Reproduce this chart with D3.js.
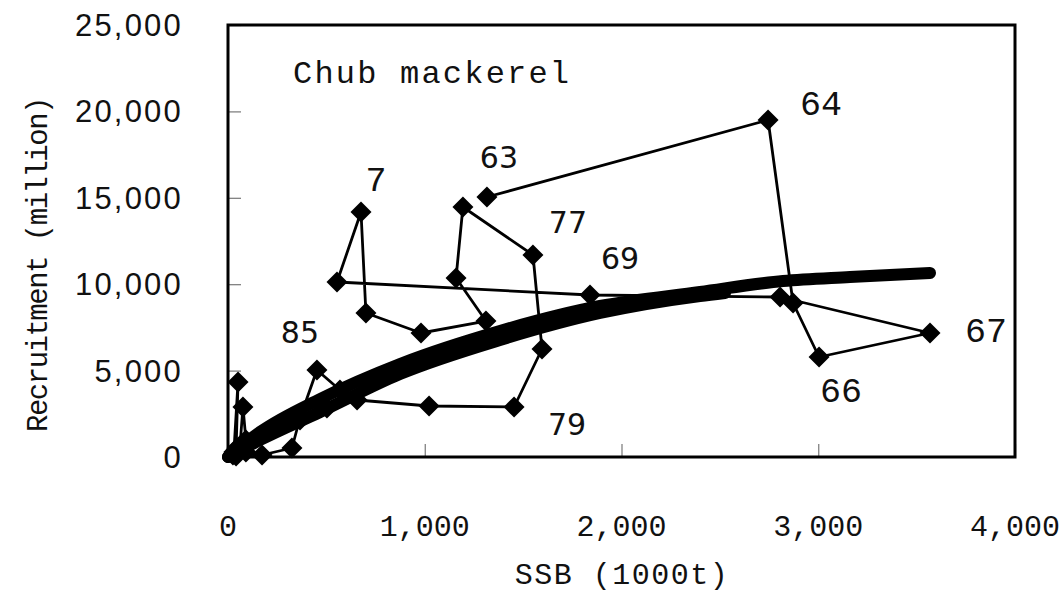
<!DOCTYPE html>
<html>
<head>
<meta charset="utf-8">
<script src="https://cdn.jsdelivr.net/npm/d3@7/dist/d3.min.js"></script>
<style>
  html, body { margin: 0; padding: 0; background: #fff; }
  svg { display: block; }
</style>
</head>
<body>
<div id="chart"></div>
<script>
// ---------- data ----------
const years = ["63","64","65","66","67","68","69","70","71","72","73","74","75","76","77","78","79","80",
               "81","82","83","84","85","86","87","88","89","90","91","92","93","94","95","96","97","98","99"];
const ssb = [1316,2745,2872,3004,3568,2806,1840,554,676,701,981,1311,1159,1194,1550,1596,1454,1022,
             656,503,366,569,452,366,325,173,91,41,30,51,41,25,61,76,91,35,46];
const recruitment = [15046,19502,8912,5787,7176,9259,9375,10127,14178,8333,7176,7870,10359,14468,11690,6250,2894,2951,
                     3299,2836,2141,3877,5035,2257,521,116,289,58,289,4340,405,116,637,2894,984,231,521];
const labelText = {"63":"63","64":"64","66":"66","67":"67","69":"69","71":"7","77":"77","79":"79","85":"85"};

// fitted stock-recruitment curves
const curveA_S = [0,163,468,874,1382,1891,2399,2821,3161,3568];
const curveA_R = [0,1447,3356,5382,7292,8738,9549,10185,10417,10648];
const curveB_S = [0,163,468,874,1382,1891,2399,2526];
const curveB_R = [0,984,2604,4803,6771,8333,9317,9491];

const xTicks = [0,1000,2000,3000,4000];
const yTicks = [0,5000,10000,15000,20000,25000];

// ---------- layout ----------
const W = 1060, H = 594;
const L = 228, R = 1015, T = 25, B = 457;

const svg = d3.select("#chart").append("svg").attr("width", W).attr("height", H);
svg.append("rect").attr("width", W).attr("height", H).attr("fill", "#fff");

const x = d3.scaleLinear().domain([0,4000]).range([L,R]);
const y = d3.scaleLinear().domain([0,25000]).range([B,T]);

const fmt = d3.format(",");

// ticks (inside)
const xAxis = d3.axisTop(x).tickValues(xTicks).tickSize(13).tickFormat("");
const gx = svg.append("g").attr("transform", `translate(0,${B})`).call(xAxis);
gx.select(".domain").remove();
gx.selectAll("line").attr("stroke","#777").attr("stroke-width",1.2);

const yAxis = d3.axisRight(y).tickValues(yTicks).tickSize(13).tickFormat("");
const gy = svg.append("g").attr("transform", `translate(${L},0)`).call(yAxis);
gy.select(".domain").remove();
gy.selectAll("line").attr("stroke","#777").attr("stroke-width",1.2);

// tick labels
svg.append("g").selectAll("text").data(yTicks).join("text")
  .attr("x", 183).attr("y", d => y(d) + 11)
  .attr("text-anchor","end")
  .attr("font-family","'Liberation Sans', Arial, sans-serif")
  .attr("font-size", 31).attr("letter-spacing", 2.2)
  .attr("fill","#111")
  .text(d => fmt(d));

svg.append("g").selectAll("text").data(xTicks).join("text")
  .attr("x", d => x(d)).attr("y", 536)
  .attr("text-anchor","middle")
  .attr("font-family","'Liberation Mono', monospace")
  .attr("font-size", 30).attr("letter-spacing", 0)
  .attr("fill","#111")
  .text(d => fmt(d));

// axis titles
svg.append("text")
  .attr("x", 622).attr("y", 584)
  .attr("text-anchor","middle")
  .attr("font-family","'Liberation Mono', monospace")
  .attr("font-size", 30).attr("letter-spacing", 1.5)
  .attr("fill","#111")
  .text("SSB (1000t)");

svg.append("text")
  .attr("transform", "translate(47,265) rotate(-90)")
  .attr("text-anchor","middle")
  .attr("font-family","'Liberation Mono', monospace")
  .attr("font-size", 29).attr("letter-spacing", -1.5)
  .attr("fill","#111")
  .text("Recruitment (million)");

// curves
const lineGen = d3.line().x(d => x(d[0])).y(d => y(d[1])).curve(d3.curveMonotoneX);
const cB = curveB_S.map((s,i) => [s, curveB_R[i]]);
const cA = curveA_S.map((s,i) => [s, curveA_R[i]]);
svg.append("path").attr("d", lineGen(cB)).attr("fill","none").attr("stroke","#000")
  .attr("stroke-width", 12).attr("stroke-linecap","round").attr("stroke-linejoin","round");
svg.append("path").attr("d", lineGen(cA)).attr("fill","none").attr("stroke","#000")
  .attr("stroke-width", 12).attr("stroke-linecap","round").attr("stroke-linejoin","round");

// trajectory
const pts = years.map((yr,i) => ({yr, s: ssb[i], r: recruitment[i]}));
svg.append("path")
  .attr("d", d3.line().x(d => x(d.s)).y(d => y(d.r))(pts))
  .attr("fill","none").attr("stroke","#000").attr("stroke-width", 2.8).attr("stroke-linejoin","round");

const dh = 10.5;
svg.append("g").selectAll("path").data(pts).join("path")
  .attr("transform", d => `translate(${x(d.s)},${y(d.r)})`)
  .attr("d", `M0,${-dh}L${dh},0L0,${dh}L${-dh},0Z`)
  .attr("fill","#000");

// frame
svg.append("rect").attr("x", L).attr("y", T).attr("width", R-L).attr("height", B-T)
  .attr("fill","none").attr("stroke","#000").attr("stroke-width", 3);

// point labels
const labelOffsets = {"63":[12,-40],"64":[53,-16],"66":[22,34],"67":[56,-2],"69":[30,-37],
                      "71":[15,-32],"77":[35,-33],"79":[53,17],"85":[-17,-38]};
const sansLabels = new Set(["63","69","77","79","85"]);
svg.append("g").selectAll("text").data(pts.filter(d => labelText[d.yr])).join("text")
  .attr("x", d => x(d.s) + labelOffsets[d.yr][0])
  .attr("y", d => y(d.r) + labelOffsets[d.yr][1] + 11)
  .attr("text-anchor","middle")
  .attr("font-family", d => sansLabels.has(d.yr) ? "'DejaVu Sans', sans-serif" : "'Liberation Mono', monospace")
  .attr("font-size", d => sansLabels.has(d.yr) ? 30 : 35)
  .attr("fill","#111")
  .text(d => labelText[d.yr]);

// title inside plot
svg.append("text")
  .attr("x", 293).attr("y", 83)
  .attr("font-family","'Liberation Mono', monospace")
  .attr("font-size", 32).attr("letter-spacing", 2.2)
  .attr("fill","#111")
  .text("Chub mackerel");
</script>
</body>
</html>
